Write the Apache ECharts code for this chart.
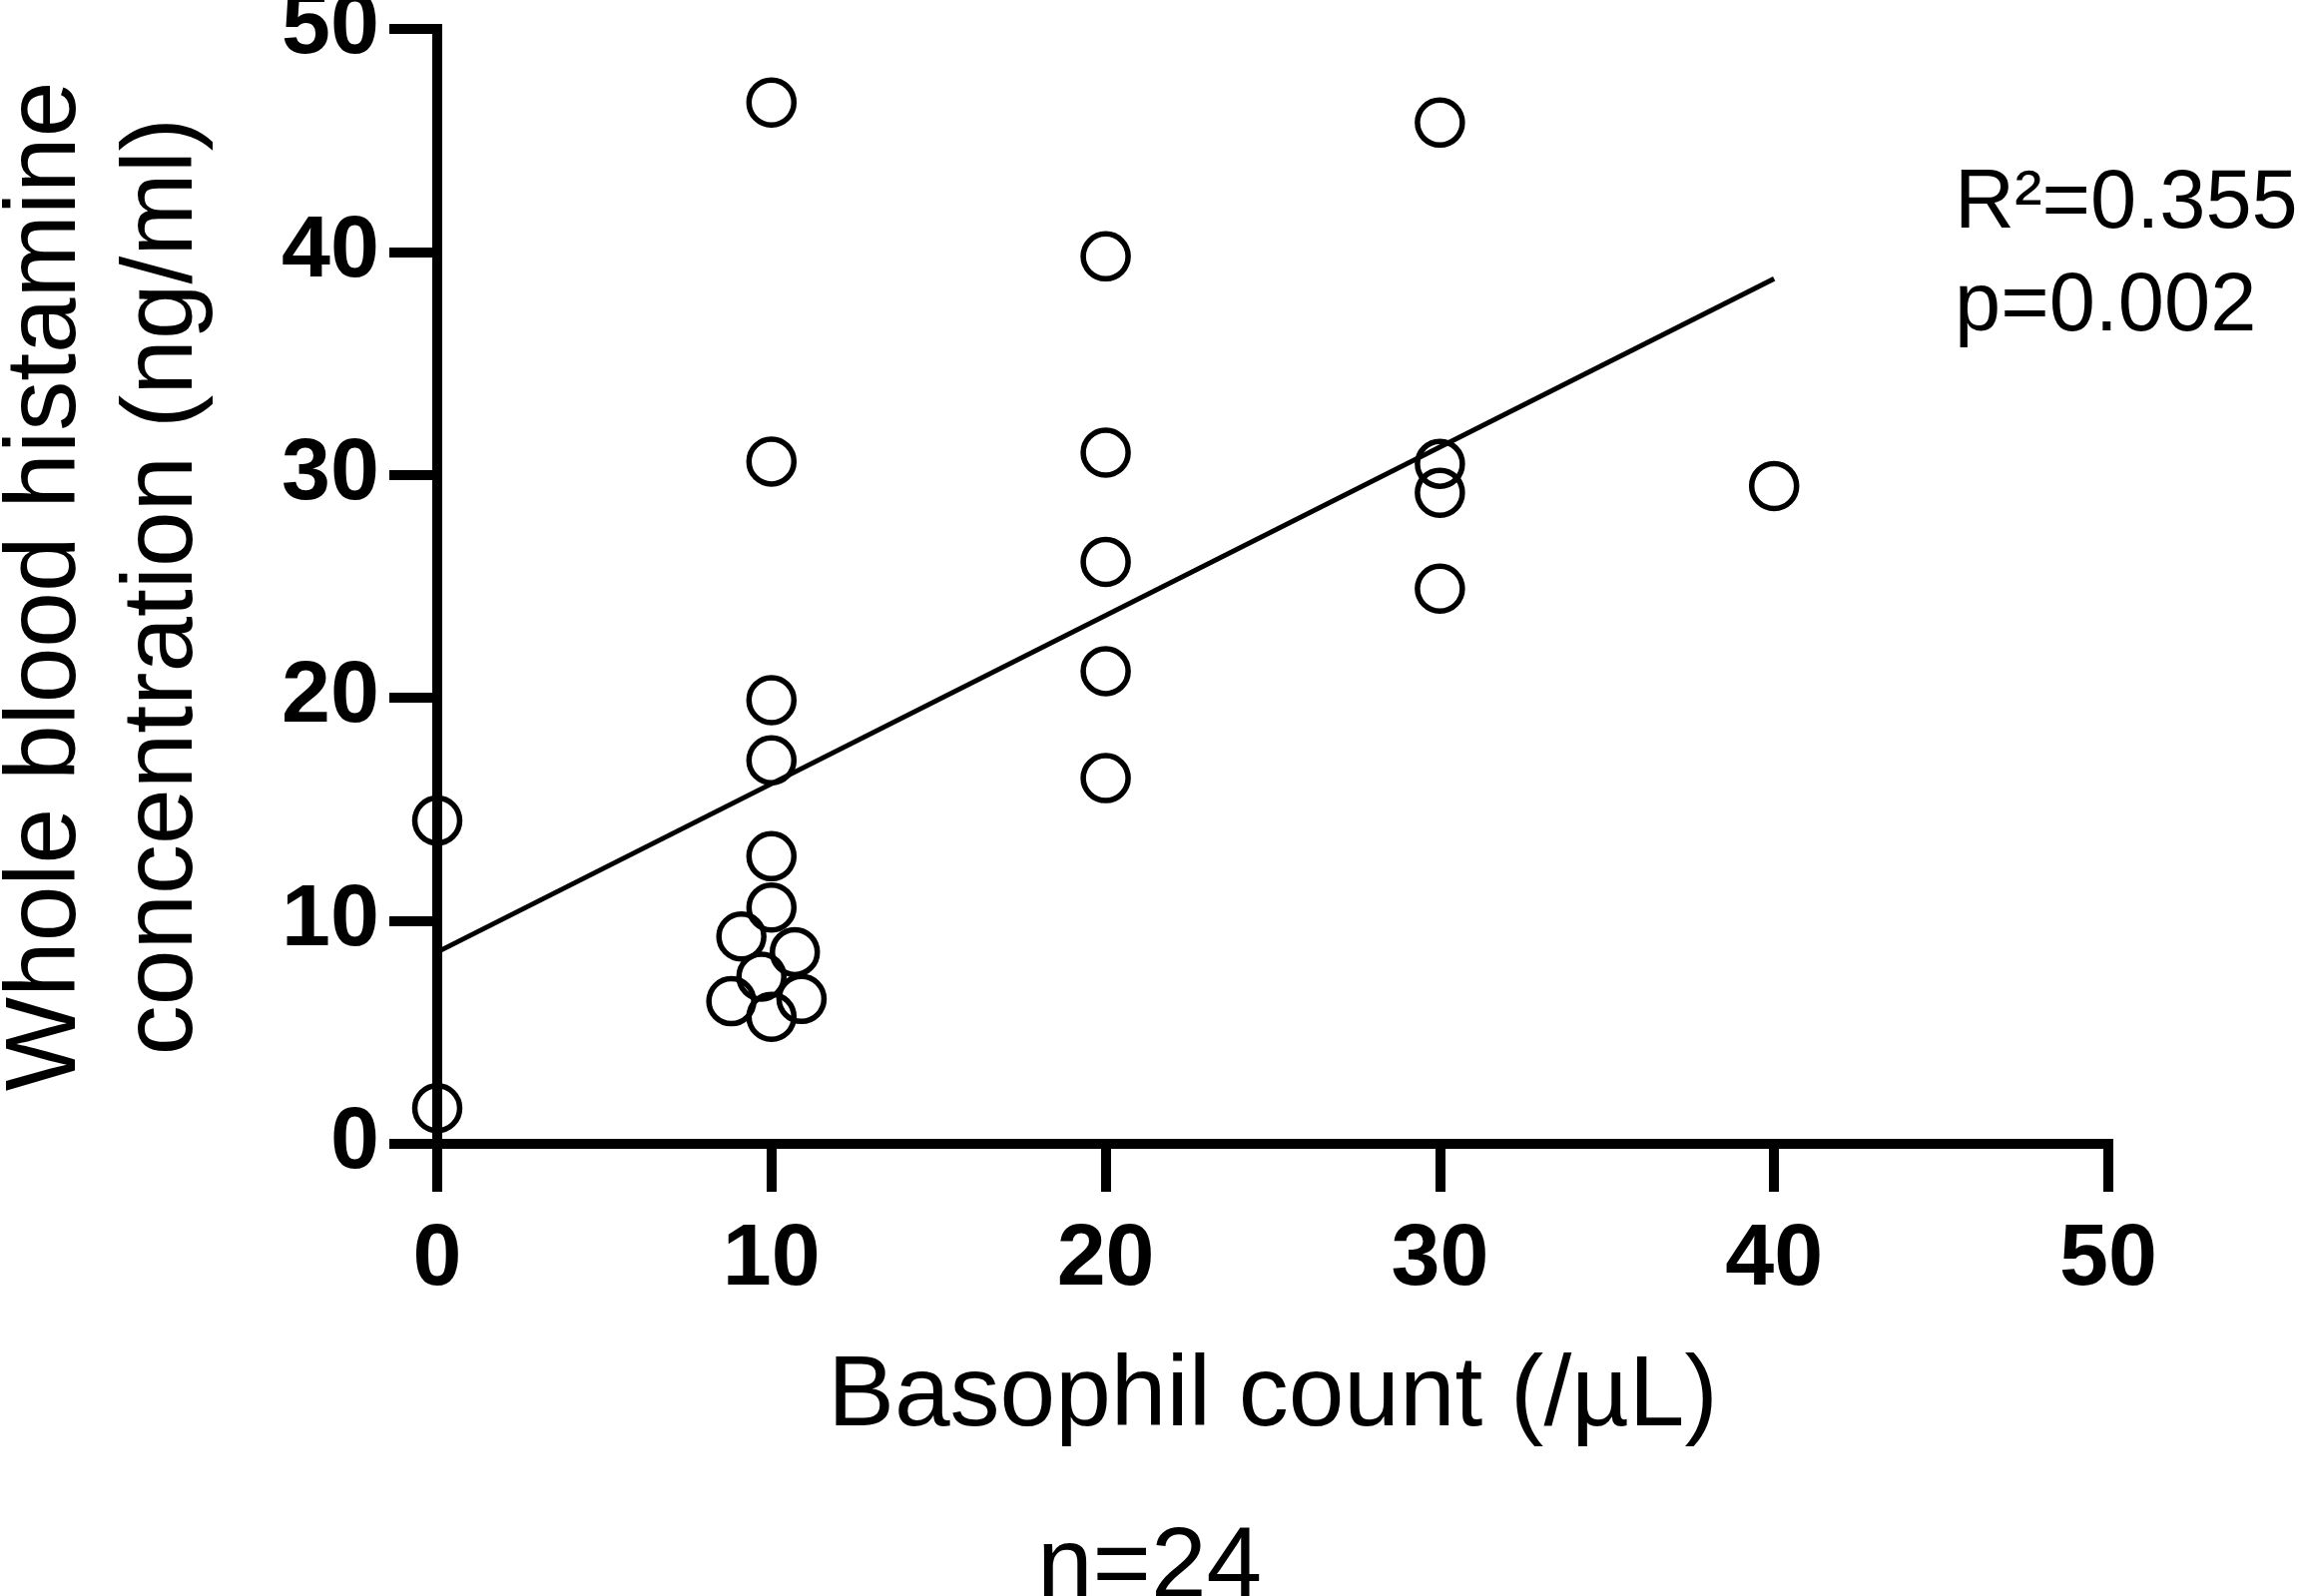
<!doctype html>
<html lang="en">
<head>
<meta charset="utf-8">
<title>Basophil count vs whole blood histamine</title>
<script src="https://cdn.jsdelivr.net/npm/echarts@6/dist/echarts.min.js"></script>
<style>
  html, body { margin: 0; padding: 0; background: #fff; }
  #main { width: 2303px; height: 1599px; }
</style>
</head>
<body>
<div id="main"></div>
<script type="text/javascript">
// basophil count (/uL), jittered as drawn in the figure
var basophil = [0, 0, 10, 10, 10, 10, 10, 10, 9.1, 10.7, 9.7, 8.8, 10.9, 10,
                20, 20, 20, 20, 20, 30, 30, 30, 30, 40];
// whole blood histamine (ng/ml)
var histamine = [14.5, 1.6, 46.7, 30.6, 19.9, 17.2, 12.9, 10.6, 9.3, 8.6, 7.5, 6.4, 6.5, 5.7,
                 39.8, 31.0, 26.1, 21.2, 16.4, 45.8, 30.5, 29.2, 24.9, 29.5];
// regression line ends
var fitX = [0, 40];
var fitY = [8.6, 38.8];
var statLines = ['R\u00b2=0.355', 'p=0.002'];
var sampleText = 'n=24';

var font = 'Liberation Sans, Arial, sans-serif';

var points = basophil.map(function (x, i) { return [x, histamine[i]]; });
var fit = fitX.map(function (x, i) { return [x, fitY[i]]; });

var chart = echarts.init(document.getElementById('main'));

var axisCommon = {
    type: 'value',
    min: 0,
    max: 50,
    interval: 10,
    splitLine: { show: false },
    axisLine: { show: true, lineStyle: { color: '#000', width: 10, cap: 'square' } },
    axisTick: { show: true, length: 48, lineStyle: { color: '#000', width: 10 } },
    axisLabel: { color: '#000', fontFamily: font, fontWeight: 'bold', fontSize: 88 },
    nameLocation: 'middle',
    nameTextStyle: { color: '#000', fontFamily: font, fontSize: 100 }
};

var option = {
    animation: false,
    backgroundColor: '#fff',
    grid: {
        left: 438, right: 191, top: 29, bottom: 453,
        containLabel: false,
        outerBoundsMode: 'none'
    },
    xAxis: echarts.util.merge({
        name: 'Basophil count (/\u00b5L)',
        nameGap: 204,
        axisLabel: { margin: 73 }
    }, axisCommon),
    yAxis: echarts.util.merge({
        name: 'Whole blood histamine\nconcentration (ng/ml)',
        nameGap: 215,
        nameRotate: 90,
        nameTextStyle: { lineHeight: 117 },
        axisLabel: { margin: 58 }
    }, axisCommon),
    series: [{
        type: 'line',
        data: fit,
        symbol: 'none',
        lineStyle: { color: '#000', width: 5 },
        z: 2
    }, {
        type: 'scatter',
        data: points,
        symbol: 'circle',
        symbolSize: 45,
        itemStyle: { color: 'rgba(0,0,0,0)', borderColor: '#000', borderWidth: 5.5, opacity: 1 },
        z: 3
    }],
    graphic: [{
        type: 'text',
        left: 1958,
        top: 164,
        style: { text: statLines[0], fill: '#000', font: '83px ' + font }
    }, {
        type: 'text',
        left: 1958,
        top: 267,
        style: { text: statLines[1], fill: '#000', font: '83px ' + font }
    }, {
        type: 'text',
        left: 'center',
        top: 1522,
        style: { text: sampleText, fill: '#000', font: '100px ' + font }
    }]
};

chart.setOption(option);
</script>
</body>
</html>
